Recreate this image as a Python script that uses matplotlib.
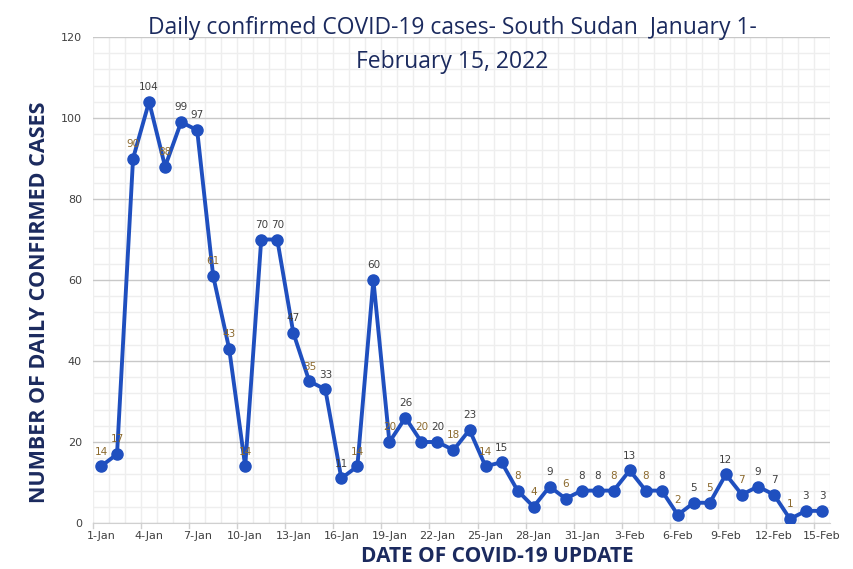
import matplotlib
matplotlib.use("Agg")
import matplotlib.pyplot as plt
import numpy as np

dates = ["1-Jan","2-Jan","3-Jan","4-Jan","5-Jan","6-Jan","7-Jan","8-Jan","9-Jan","10-Jan",
         "11-Jan","12-Jan","13-Jan","14-Jan","15-Jan","16-Jan","17-Jan","18-Jan","19-Jan","20-Jan",
         "21-Jan","22-Jan","23-Jan","24-Jan","25-Jan","26-Jan","27-Jan","28-Jan","29-Jan","30-Jan",
         "31-Jan","1-Feb","2-Feb","3-Feb","4-Feb","5-Feb","6-Feb","7-Feb","8-Feb","9-Feb",
         "10-Feb","11-Feb","12-Feb","13-Feb","14-Feb","15-Feb"]
cases = [14,17,90,104,88,99,97,61,43,14,
         70,70,47,35,33,11,14,60,20,26,
         20,20,18,23,14,15,8,4,9,6,
         8,8,8,13,8,8,2,5,5,12,
         7,9,7,1,3,3]
# label tint as seen in the reference (g = goldish, d = dark grey), one per value
label_tint = ["g","g","g","d","g","d","d","g","g","g",
              "d","d","d","g","d","d","g","d","g","d",
              "g","d","g","d","g","d","g","g","d","g",
              "d","d","g","d","g","d","g","d","g","d",
              "g","d","d","g","d","d"]

GOLD = "#8c6a2e"
DARK = "#404040"
NAVY = "#1b2a5e"
LINE = "#1f4fbf"

fig = plt.figure(figsize=(8.54, 5.69), dpi=100)
ax = fig.add_axes([93/854, 1-523/569, (830-93)/854, (523-37)/569])

x = np.arange(len(cases))
ax.plot(x, cases, color=LINE, lw=2.8, marker="o", ms=8, mfc=LINE, mec=LINE, zorder=3)

for xi, yi, t in zip(x, cases, label_tint):
    ax.annotate(str(yi), (xi, yi), xytext=(0, 7), textcoords="offset points",
                ha="center", va="bottom", fontsize=7.5,
                color=GOLD if t == "g" else DARK, zorder=4)

ax.set_xlim(-0.5, len(cases) - 0.5)
ax.set_ylim(0, 120)

ax.set_yticks(np.arange(0, 121, 20))
ax.set_yticks(np.arange(0, 121, 4), minor=True)
ax.set_xticks(x[::3])
ax.set_xticklabels([dates[i] for i in x[::3]])
ax.set_xticks(np.arange(-0.5, len(cases), 1), minor=True)

ax.grid(which="minor", color="#eeeeee", lw=1.0, zorder=0)
ax.grid(which="major", axis="y", color="#c8c8c8", lw=1.0, zorder=1)
ax.set_axisbelow(True)

for s in ["top", "right", "left"]:
    ax.spines[s].set_visible(False)
ax.spines["bottom"].set_color("#d0d0d0")

ax.tick_params(axis="y", which="both", length=0, labelsize=8, colors="#404040", pad=8)
ax.tick_params(axis="x", which="major", length=0, labelsize=8, colors="#404040", pad=6)
ax.tick_params(axis="x", which="minor", length=0)
for b in np.arange(-0.5, len(cases), 3):
    ax.plot([b, b], [0, -1.3], color="#d0d0d0", lw=1, clip_on=False)

fig.text(452/854, 1-28/569, "Daily confirmed COVID-19 cases- South Sudan  January 1-",
         ha="center", va="center", fontsize=16.5, color=NAVY, family="Open Sans")
fig.text(452/854, 1-62/569, "February 15, 2022",
         ha="center", va="center", fontsize=16.5, color=NAVY, family="Open Sans")

fig.text(40/854, 1-302/569, "NUMBER OF DAILY CONFIRMED CASES", rotation=90,
         ha="center", va="center", fontsize=15.5, fontweight="bold", color=NAVY, family="Open Sans")
fig.text(497/854, 1-556/569, "DATE OF COVID-19 UPDATE",
         ha="center", va="center", fontsize=15, fontweight="bold", color=NAVY, family="Open Sans")

fig.savefig("out.png", dpi=100)
